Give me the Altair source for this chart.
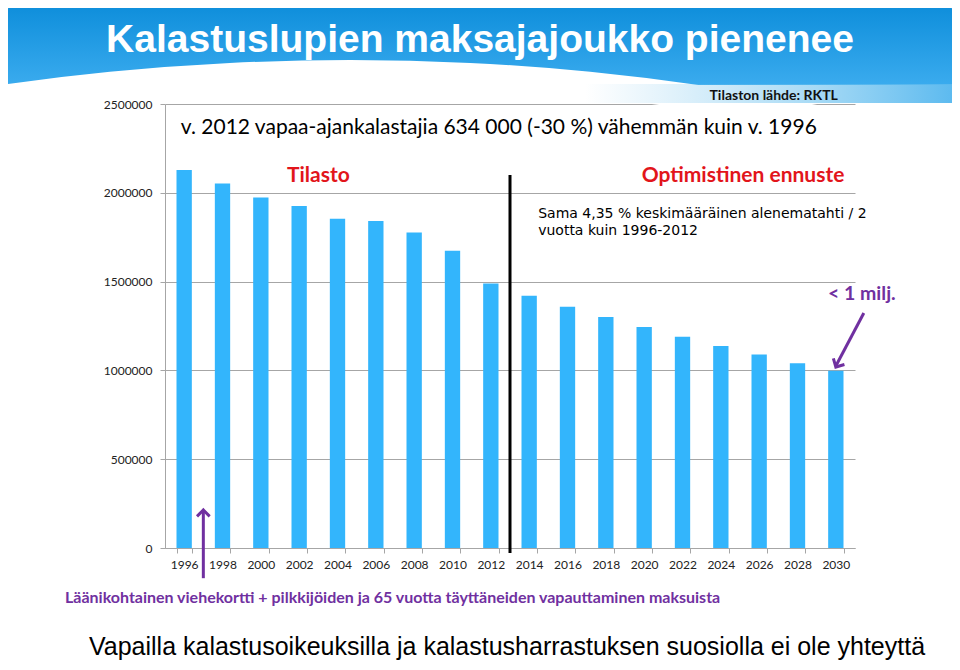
import altair as alt
import pandas as pd

# ---- data ----
years = [str(y) for y in range(1996, 2031, 2)]
members = [2128000, 2053000, 1973000, 1926000, 1854000, 1841000, 1777000, 1674000,
           1490000, 1421000, 1359000, 1301000, 1244000, 1190000, 1137000, 1089000,
           1040000, 998000]
y_ticks = [0, 500000, 1000000, 1500000, 2000000, 2500000]

title_text = "Kalastuslupien maksajajoukko pienenee"
subtitle_text = "v. 2012 vapaa-ajankalastajia  634 000 (-30 %) vähemmän kuin  v. 1996"
source_text = "Tilaston lähde: RKTL"
stat_label = "Tilasto"
forecast_label = "Optimistinen ennuste"
forecast_note = ["Sama 4,35 % keskimääräinen alenematahti / 2", "vuotta kuin 1996-2012"]
milj_label = "< 1 milj."
bottom_note = "Läänikohtainen viehekortti + pilkkijöiden ja 65 vuotta täyttäneiden vapauttaminen maksuista"
footer_text = "Vapailla kalastusoikeuksilla ja kalastusharrastuksen suosiolla ei ole yhteyttä"

W, H = 690, 444
HALF_STEP = W / len(years) / 2
PURPLE = "#7030a0"
RED = "#e2151b"
BAR = "#33b5fc"
GRID = "#a6a6a6"

df = pd.DataFrame({"year": years, "value": members})

xscale = alt.Scale(paddingInner=0.6, paddingOuter=0.3)
yscale = alt.Scale(domain=[0, 2500000], nice=False)

x_enc = alt.X("year:O", scale=xscale,
              axis=alt.Axis(title=None, labelAngle=0, tickBand="extent",
                            domainColor=GRID, tickColor=GRID, tickSize=5,
                            labelFont="Lato", labelFontSize=12, labelColor="#222",
                            labelPadding=6))
y_enc = alt.Y("value:Q", scale=yscale,
              axis=alt.Axis(title=None, values=y_ticks, format="d", grid=True,
                            gridColor=GRID, domainColor=GRID, tickColor=GRID,
                            tickSize=5, labelFont="Lato", labelFontSize=12,
                            labelColor="#222", labelPadding=8))

one = pd.DataFrame({"k": [0]})

# decorative banner (blue band, white swoosh, light wave on the right)
banner = alt.Chart(one).mark_rect(
    cornerRadiusTopLeft=14, cornerRadiusTopRight=14,
    fill=alt.Gradient(gradient="linear", x1=0, y1=0, x2=0, y2=1,
                      stops=[alt.GradientStop(color="#0e8edb", offset=0),
                             alt.GradientStop(color="#3aabee", offset=1)])
).encode(x=alt.value(-162), x2=alt.value(792), y=alt.value(-99), y2=alt.value(-19))

swoosh = alt.Chart(one).mark_arc(
    radius=2450, radius2=2425, theta=0, theta2=6.2832, fill="white", stroke=None
).encode(x=alt.value(185), y=alt.value(2406))

wave = alt.Chart(one).mark_rect(
    fill=alt.Gradient(gradient="linear", x1=0, y1=0, x2=1, y2=0,
                      stops=[alt.GradientStop(color="rgba(120,195,235,0)", offset=0),
                             alt.GradientStop(color="rgba(100,190,238,0.55)", offset=0.6),
                             alt.GradientStop(color="#5ab9ef", offset=1)])
).encode(x=alt.value(420), x2=alt.value(792), y=alt.value(-20), y2=alt.value(-1))

title = alt.Chart(pd.DataFrame({"t": [title_text]})).mark_text(
    font="Liberation Sans", fontWeight="bold", fontSize=39, color="white",
    align="center", baseline="alphabetic"
).encode(x=alt.value(315), y=alt.value(-52), text="t:N")

bars = alt.Chart(df).mark_bar(color=BAR).encode(x=x_enc, y=y_enc)

# vertical separator between statistics and forecast
sep = alt.Chart(pd.DataFrame({"year": ["2012"], "value": [2100000], "value2": [-28000]})).mark_rule(
    color="black", strokeWidth=3, xOffset=HALF_STEP
).encode(x="year:O", y="value:Q", y2="value2:Q")

# purple arrow at 1996/1998
arrow1 = alt.Chart(pd.DataFrame({"year": ["1996"], "value": [214000], "value2": [-170000]})).mark_rule(
    color=PURPLE, strokeWidth=3, xOffset=HALF_STEP
).encode(x="year:O", y="value:Q", y2="value2:Q")
head1 = alt.Chart(pd.DataFrame({"year": ["1996"], "value": [214000]})).mark_point(
    shape="M-1,1L0,0L1,1", filled=False, strokeWidth=3, size=160, color=PURPLE, opacity=1,
    xOffset=HALF_STEP
).encode(x="year:O", y="value:Q")

# diagonal arrow towards 2030
arrow2 = alt.Chart(pd.DataFrame({"year": ["2030"], "value": [1323000], "value2": [1025000]})).mark_rule(
    color=PURPLE, strokeWidth=3, xOffset=28, x2Offset=0
).encode(x="year:O", x2="year:O", y="value:Q", y2="value2:Q")
head2 = alt.Chart(pd.DataFrame({"year": ["2030"], "value": [1019000]})).mark_point(
    shape="M-1,1L0,0L1,1", filled=False, strokeWidth=3, size=160, color=PURPLE,
    opacity=1, angle=209
).encode(x="year:O", y="value:Q")

def label(year, value, text, **kw):
    return alt.Chart(pd.DataFrame({"year": [year], "value": [value], "label": [text]})).mark_text(
        **kw).encode(x="year:O", y="value:Q", text="label:N")

subtitle = label("2012", 2365000, subtitle_text, font="Lato", fontSize=21,
                 color="black", align="center", baseline="middle", dx=8)
source = label("2030", 2545000, source_text, font="Lato", fontWeight="bold", fontSize=14,
               color="#111", align="right", baseline="middle", dx=2)
stat = label("2002", 2095000, stat_label, font="Lato", fontWeight="bold",
             fontSize=21, color=RED, align="center", baseline="middle", dx=HALF_STEP)
fore = label("2024", 2095000, forecast_label, font="Lato", fontWeight="bold",
             fontSize=21, color=RED, align="center", baseline="middle", dx=HALF_STEP + 3)
note1 = label("2014", 1881000, forecast_note[0], font="DejaVu Sans", fontSize=14,
              color="black", align="left", baseline="middle", dx=9)
note2 = label("2014", 1785000, forecast_note[1], font="DejaVu Sans", fontSize=14,
              color="black", align="left", baseline="middle", dx=9)
milj = label("2030", 1430000, milj_label, font="Lato", fontWeight="bold", fontSize=19.5,
             color=PURPLE, align="center", baseline="middle", dx=26)

bottom = alt.Chart(pd.DataFrame({"t": [bottom_note]})).mark_text(
    font="Lato", fontWeight="bold", fontSize=16, color=PURPLE, align="left", baseline="middle"
).encode(x=alt.value(-100), y=alt.value(494), text="t:N")
footer = alt.Chart(pd.DataFrame({"t": [footer_text]})).mark_text(
    font="Liberation Sans", fontSize=25, color="black", align="center", baseline="alphabetic"
).encode(x=alt.value(342), y=alt.value(551), text="t:N")

chart = alt.layer(
    banner, swoosh, wave, title, bars, sep, arrow1, head1, arrow2, head2,
    subtitle, source, stat, fore, note1, note2, milj, bottom, footer
).properties(
    width=W, height=H, autosize="none",
    padding={"left": 157, "top": 96, "right": 97, "bottom": 114}
).configure_view(stroke=None)

chart.save("out.html", embed_options={"renderer": "svg", "actions": False})
